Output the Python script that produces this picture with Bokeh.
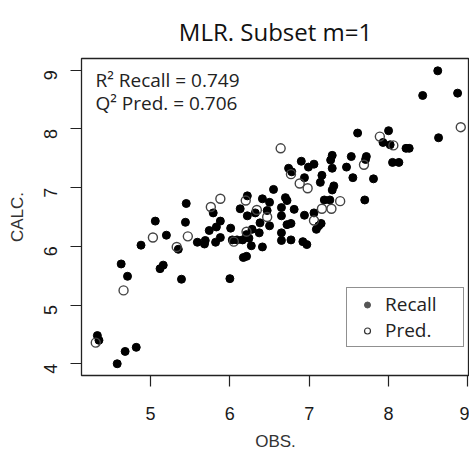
import math
from bokeh.plotting import figure
from bokeh.models import Legend, LegendItem, Label, Range1d, FixedTicker, ColumnDataSource
from bokeh.embed import file_html
from bokeh.resources import INLINE

# Recall (training) set: observed vs calculated
recall_obs = [5.45, 5.06, 5.44, 5.20, 4.88, 5.35, 5.59, 4.63, 5.12, 5.16, 4.71, 5.39,
              4.33, 4.35, 4.68, 4.82, 4.58,
              5.69, 5.68, 5.74, 5.79, 5.83, 5.82, 5.88, 5.88, 6.01, 6.00, 6.03, 6.09,
              6.13, 6.16, 6.17, 6.21, 6.22, 6.22, 6.24, 6.21, 6.27, 6.28, 6.32, 6.37,
              6.38, 6.41, 6.41, 6.47, 6.50, 6.50, 6.55, 6.65, 6.65, 6.65, 6.65, 6.70,
              6.72, 6.72, 6.77, 6.77, 6.74, 6.78,
              6.81, 6.90, 6.92, 6.97, 6.94, 6.94, 6.99, 7.06, 7.06, 7.09, 7.12, 7.15,
              7.14, 7.16, 7.19, 7.26, 7.27, 7.29, 7.29, 7.29, 7.31, 7.47, 7.53, 7.55,
              7.61, 7.70, 7.71, 7.72, 7.81,
              7.93, 8.00, 8.02, 8.05, 8.13, 8.22, 8.26, 8.43, 8.62, 8.63, 8.87]
recall_calc = [6.73, 6.43, 6.41, 6.19, 6.02, 5.95, 6.07, 5.70, 5.62, 5.68, 5.49, 5.44,
               4.48, 4.40, 4.21, 4.28, 4.00,
               6.10, 6.04, 6.27, 6.57, 6.33, 6.07, 6.43, 6.15, 6.31, 5.45, 6.11, 6.11,
               6.64, 6.11, 5.81, 5.83, 6.86, 6.52, 6.14, 6.20, 6.01, 6.29, 6.57, 6.23,
               6.40, 5.99, 6.81, 6.61, 6.75, 6.35, 6.97, 6.66, 6.52, 6.23, 6.10, 6.83,
               6.78, 6.37, 6.39, 6.11, 7.33, 7.27,
               6.63, 7.45, 6.08, 6.03, 7.17, 6.53, 7.35, 7.40, 6.57, 6.29, 6.35, 6.39,
               7.09, 7.21, 6.79, 6.79, 7.47, 7.55, 7.33, 6.96, 7.03, 7.35, 7.53, 7.17,
               7.93, 6.79, 7.48, 7.53, 7.15,
               7.77, 7.97, 7.73, 7.43, 7.43, 7.67, 7.67, 8.57, 8.99, 7.85, 8.61]

# Prediction (test) set
pred_obs = [5.03, 5.47, 5.33, 4.66, 4.31, 5.76, 5.88, 6.20, 6.34, 6.47, 6.05, 6.21,
            6.64, 6.77, 6.88, 6.98, 7.06, 7.16, 7.28, 7.39, 7.69, 7.89, 8.06, 8.91]
pred_calc = [6.15, 6.17, 5.99, 5.25, 4.36, 6.67, 6.81, 6.78, 6.62, 6.50, 6.08, 6.25,
             7.67, 7.23, 7.07, 6.99, 6.44, 6.64, 6.64, 6.77, 7.39, 7.87, 7.72, 8.03]

x_ticks = [5, 6, 7, 8, 9]
y_ticks = [4, 5, 6, 7, 8, 9]
title_text = "MLR. Subset m=1"
stat_lines = ["R\u00b2 Recall = 0.749", "Q\u00b2 Pred.  = 0.706"]
legend_labels = ["Recall", "Pred."]

p = figure(width=469, height=453,
           x_range=Range1d(4.13, 9.02), y_range=Range1d(3.8, 9.2),
           output_backend="svg", toolbar_location=None,
           min_border_left=81, min_border_right=0,
           min_border_top=58, min_border_bottom=71)

p.title.text = title_text
p.title.text_font = "Open Sans"
p.title.text_font_size = "24px"
p.title.text_font_style = "normal"
p.title.align = "center"
p.title.text_color = "#111111"
p.title.standoff = 22

p.grid.visible = False
p.outline_line_color = "#222222"
p.outline_line_width = 1.3
p.background_fill_color = "white"
p.border_fill_color = "white"

for ax in (p.xaxis[0], p.yaxis[0]):
    ax.axis_line_color = None
    ax.major_tick_line_color = "#222222"
    ax.major_tick_line_width = 1.2
    ax.major_tick_out = 11
    ax.major_tick_in = 0
    ax.minor_tick_line_color = None
    ax.major_label_text_font = "Liberation Sans"
    ax.major_label_text_font_size = "18px"
    ax.major_label_text_color = "#1a1a1a"
    ax.axis_label_text_font = "Liberation Sans"
    ax.axis_label_text_font_size = "17px"
    ax.axis_label_text_font_style = "normal"
    ax.axis_label_text_color = "#333333"

p.xaxis[0].ticker = FixedTicker(ticks=x_ticks)
p.yaxis[0].ticker = FixedTicker(ticks=y_ticks)
p.xaxis[0].axis_label = "OBS."
p.yaxis[0].axis_label = "CALC."
p.xaxis[0].major_label_standoff = 20
p.xaxis[0].axis_label_standoff = 9
p.yaxis[0].major_label_orientation = math.pi / 2
p.yaxis[0].major_label_standoff = 20
p.yaxis[0].axis_label_standoff = 8

src_r = ColumnDataSource(dict(x=recall_obs, y=recall_calc))
src_p = ColumnDataSource(dict(x=pred_obs, y=pred_calc))

p.scatter("x", "y", source=src_r, size=8, marker="circle",
          fill_color="black", line_color="black")
p.scatter("x", "y", source=src_p, size=9, marker="circle",
          fill_color=None, line_color="#444444", line_width=1.4)

# small legend markers (non-drawn NaN placeholders, used only for the legend)
nan = float("nan")
leg_r = p.scatter(x=[nan], y=[nan], size=5, marker="circle", fill_color="#555555", line_color="#555555")
leg_p = p.scatter(x=[nan], y=[nan], size=7, marker="circle", fill_color=None, line_color="#333333", line_width=1.2)

legend = Legend(items=[LegendItem(label=legend_labels[0], renderers=[leg_r]),
                       LegendItem(label=legend_labels[1], renderers=[leg_p])],
                location=(265, 28), orientation="vertical",
                label_text_font="Open Sans", label_text_font_size="19px",
                label_text_color="#222222",
                border_line_color="#222222", border_line_width=1.5,
                background_fill_alpha=1.0, padding=3, spacing=0,
                glyph_width=34, glyph_height=15, label_height=21, label_width=75,
                label_standoff=1, margin=0)
p.add_layout(legend, "center")

for i, txt in enumerate(stat_lines):
    p.add_layout(Label(x=4.306, y=8.833 - 0.383 * i, text=txt,
                       text_font="Open Sans", text_font_size="19px",
                       text_color="#222222", text_baseline="middle"))

open("out.html", "w").write(file_html(p, INLINE))
